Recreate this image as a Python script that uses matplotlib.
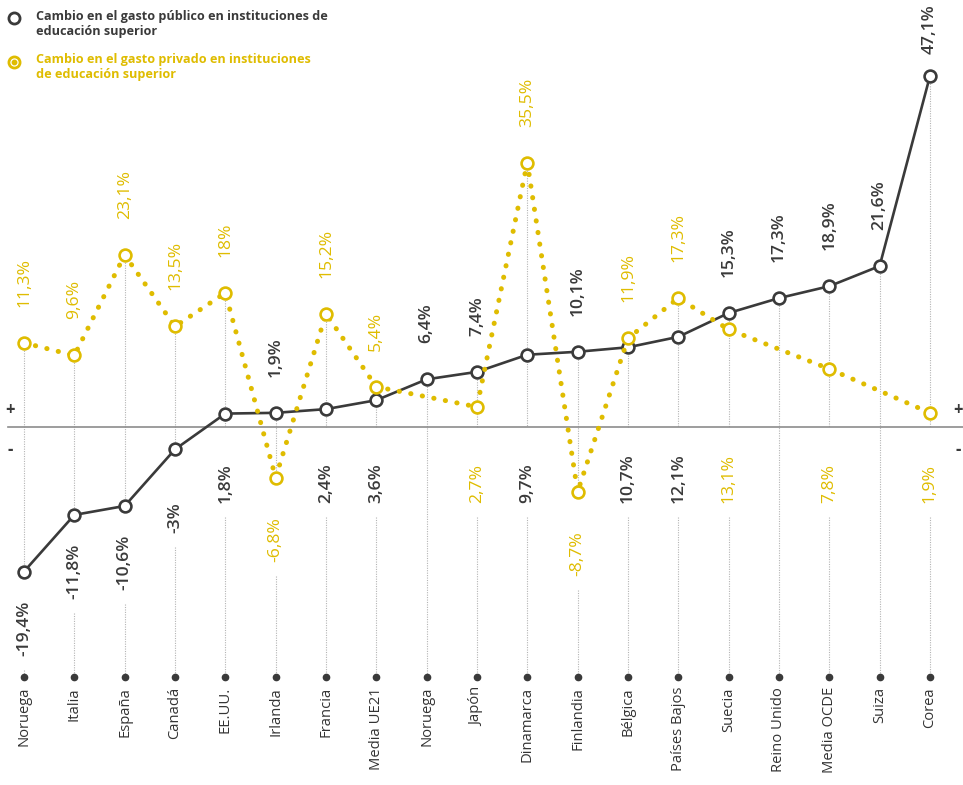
import numpy as np
import matplotlib.pyplot as plt

plt.rcParams['font.family'] = ['Open Sans', 'DejaVu Sans']

# %% Data
paises = ["Noruega", "Italia", "España", "Canadá", "EE.UU.", "Irlanda", "Francia",
          "Media UE21", "Noruega", "Japón", "Dinamarca", "Finlandia", "Bélgica",
          "Países Bajos", "Suecia", "Reino Unido", "Media OCDE", "Suiza", "Corea"]
gasto_publico = [-19.4, -11.8, -10.6, -3.0, 1.8, 1.9, 2.4, 3.6, 6.4, 7.4, 9.7, 10.1,
                 10.7, 12.1, 15.3, 17.3, 18.9, 21.6, 47.1]
gasto_privado = [11.3, 9.6, 23.1, 13.5, 18.0, -6.8, 15.2, 5.4, np.nan, 2.7, 35.5, -8.7,
                 11.9, 17.3, 13.1, np.nan, 7.8, np.nan, 1.9]

leyenda_publico = "Cambio en el gasto público en instituciones de\neducación superior"
leyenda_privado = "Cambio en el gasto privado en instituciones\nde educación superior"

# %% Style
DARK = '#3a3a3a'
YELLOW = '#DFBC00'
GUIDE = '#b4b4b4'

W, H = 963, 785
PX = 7.45        # pixels per percentage point
ZERO = 427       # pixel row of the zero line
X0, DX = 24, 50.33


def fmt(v):
    if float(v).is_integer():
        return f"{int(v)}%"
    return f"{v:.1f}%".replace('.', ',')


fig = plt.figure(figsize=(W / 100, H / 100), dpi=100)
ax = fig.add_axes([0, 0, 1, 1])
ax.set_xlim(-X0 / DX, (W - X0) / DX)
ax.set_ylim((ZERO - H) / PX, ZERO / PX)
ax.axis('off')

x = np.arange(len(paises))
pub = np.array(gasto_publico)
pri = np.array(gasto_privado)
dot_y = (ZERO - 677) / PX
low_floor = (ZERO - 503) / PX   # lower labels never sit higher than this

# zero line and +/- signs
ax.plot([(8 - X0) / DX, (W - X0) / DX], [0, 0], color='#8c8c8c', lw=1.2, zorder=2)
for xp in (10, 958):
    ax.text(xp / W, 1 - 410 / H, '+', transform=ax.transAxes, ha='center', va='center',
            fontsize=12, fontweight='bold', color=DARK)
    ax.text(xp / W, 1 - 450 / H, '-', transform=ax.transAxes, ha='center', va='center',
            fontsize=12, fontweight='bold', color=DARK)

# guide lines and value labels
for i in range(len(paises)):
    vals = [(pub[i], DARK, 'semibold')]
    if not np.isnan(pri[i]):
        vals.append((pri[i], YELLOW, 'medium'))
    vals.sort(key=lambda t: t[0], reverse=True)
    hi = vals[0]
    top_y = min(hi[0] + 36 / PX, 50)
    ax.text(i, top_y, fmt(hi[0]), rotation=90, ha='center', va='bottom',
            fontsize=12.6, color=hi[1], fontweight=hi[2], zorder=6)
    if len(vals) == 2:
        lo = vals[1]
        lab_y = min(lo[0] - 84 / PX, low_floor)
        ax.text(i, lab_y, fmt(lo[0]), rotation=90, ha='center', va='bottom',
                fontsize=12.6, color=lo[1], fontweight=lo[2], zorder=6)
        ax.plot([i, i], [hi[0], min(lo[0], 0)], color=GUIDE, lw=0.8,
                linestyle=(0, (1, 1.2)), zorder=1)
        ax.plot([i, i], [lab_y - 14 / PX, dot_y], color=GUIDE, lw=0.8,
                linestyle=(0, (1, 1.2)), zorder=1)
    else:
        ax.plot([i, i], [hi[0], dot_y], color=GUIDE, lw=0.8,
                linestyle=(0, (1, 1.2)), zorder=1)

# series
ax.plot(x, pub, color=DARK, lw=1.9, zorder=3, marker='o', ms=8.5,
        mfc='white', mec=DARK, mew=1.9)
ok = ~np.isnan(pri)
ax.plot(x[ok], pri[ok], color=YELLOW, lw=3.6, linestyle=(0, (0.05, 2.3)),
        dash_capstyle='round', zorder=4)
ax.plot(x[ok], pri[ok], 'o', ms=8.5, mfc='white', mec=YELLOW, mew=1.9, zorder=5)

# country axis
ax.plot(x, np.full(len(x), dot_y), 'o', ms=4.5, color=DARK, zorder=3)
for i, p in enumerate(paises):
    ax.annotate(p, (i, dot_y), xytext=(0, -10), textcoords='offset pixels',
                rotation=90, ha='center', va='top', fontsize=10.6, color='#333333')

# legend
ax.plot(14 / W, 1 - 18 / H, 'o', ms=8, mfc='white', mec=DARK, mew=2,
        transform=ax.transAxes, clip_on=False)
ax.plot(14 / W, 1 - 62 / H, 'o', ms=8, mfc='white', mec=YELLOW, mew=2,
        transform=ax.transAxes, clip_on=False)
ax.plot(14 / W, 1 - 62 / H, 'o', ms=3.2, color=YELLOW,
        transform=ax.transAxes, clip_on=False)
ax.text(36 / W, 1 - 10 / H, leyenda_publico, transform=ax.transAxes, ha='left', va='top',
        fontsize=9.1, fontweight='bold', color=DARK, linespacing=1.2)
ax.text(36 / W, 1 - 53 / H, leyenda_privado, transform=ax.transAxes, ha='left', va='top',
        fontsize=9.1, fontweight='bold', color=YELLOW, linespacing=1.2)

fig.savefig('out.png', dpi=100)
